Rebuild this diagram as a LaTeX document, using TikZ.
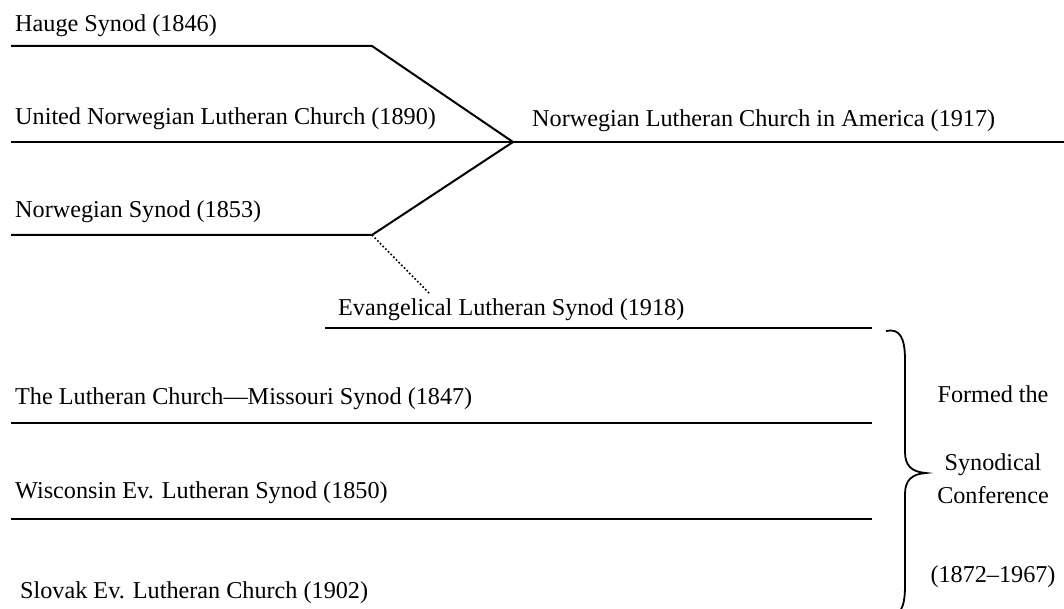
\documentclass[tikz,border=0pt]{standalone}
\usepackage{fontspec}
\setmainfont{Liberation Serif}
\begin{document}
\begin{tikzpicture}[x=1pt,y=-1pt,
  lbl/.style={anchor=base west,inner sep=0pt,font=\fontsize{24.2}{26}\selectfont},
  rlbl/.style={anchor=base,inner sep=0pt,font=\fontsize{24.2}{26}\selectfont},
  ln/.style={line width=2pt,line join=miter},
  dotln/.style={line width=1.6pt,dash pattern=on 1.6pt off 2.2pt}]
\useasboundingbox (0,0) rectangle (1064,609);
\clip (0,0) rectangle (1064,609);
% coordinates
\coordinate (h0) at (11,46);
\coordinate (h1) at (372,46);
\coordinate (u0) at (11,142);
\coordinate (m) at (513,142);
\coordinate (e) at (1064,142);
\coordinate (n0) at (11,235);
\coordinate (n1) at (372,235);
\coordinate (d1) at (430,294);
\coordinate (el0) at (325,328);
\coordinate (el1) at (872,328);
\coordinate (mo0) at (11,423);
\coordinate (mo1) at (872,423);
\coordinate (w0) at (11,519);
\coordinate (w1) at (872,519);
% labels
\node[lbl] (hauge) at (15,32) {Hauge Synod (1846)};
\node[lbl] (unlc) at (15,125) {United Norwegian Lutheran Church (1890)};
\node[lbl] (nlca) at (532,127) {Norwegian Lutheran Church in America (1917)};
\node[lbl] (ns) at (15,218) {Norwegian Synod (1853)};
\node[lbl] (els) at (338,315) {Evangelical Lutheran Synod (1918)};
\node[lbl] (lcms) at (15,404) {The Lutheran Church---Missouri Synod (1847)};
\node[lbl] (wels) at (15,498) {Wisconsin Ev. Lutheran Synod (1850)};
\node[lbl] (slovak) at (20,598) {Slovak Ev. Lutheran Church (1902)};
\node[rlbl] (f1) at (993,402) {Formed the};
\node[rlbl] (f2) at (993,470) {Synodical};
\node[rlbl] (f3) at (993,503) {Conference};
\node[rlbl] (f4) at (993,582) {(1872--1967)};
% lines
\draw[ln] (h0) -- (h1) -- (m);
\draw[ln] (u0) -- (m) -- (e);
\draw[ln] (n0) -- (n1) -- (m);
\draw[dotln] (n1) -- (d1);
\draw[ln] (el0) -- (el1);
\draw[ln] (mo0) -- (mo1);
\draw[ln] (w0) -- (w1);
% brace
\coordinate (btop) at (886,331);
\coordinate (btip) at (926,473);
\coordinate (bbot) at (886,615);
\draw[line width=1.8pt] (btop) .. controls (900,328) and (905,338) .. (905,360)
  -- (905,452) .. controls (905,466) and (912,472) .. (btip)
  .. controls (912,474) and (905,480) .. (905,494)
  -- (905,586) .. controls (905,608) and (900,618) .. (bbot);
\end{tikzpicture}
\end{document}
